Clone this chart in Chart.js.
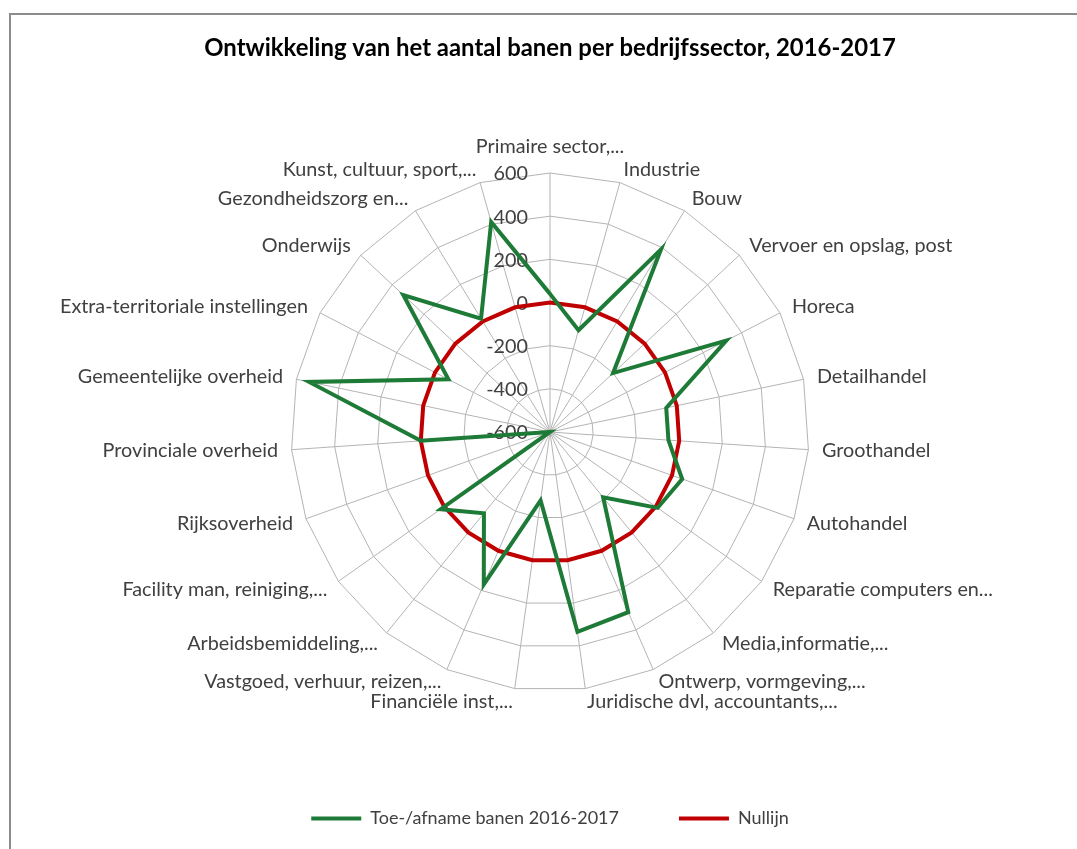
<!DOCTYPE html>
<html>
<head>
<meta charset="utf-8">
<script src="https://cdn.jsdelivr.net/npm/chart.js@4/dist/chart.umd.min.js"></script>
<style>
  html, body { margin: 0; padding: 0; background: #fff; overflow: hidden; }
  #wrap { position: relative; width: 1077px; height: 849px; }
  #frame { position: absolute; left: 9px; top: 13px; width: 1100px; height: 900px;
           border-top: 2px solid #8c8c8c; border-left: 2px solid #8c8c8c; }
  canvas { position: absolute; left: 0; top: 0; }
</style>
</head>
<body>
<div id="wrap">
  <div id="frame"></div>
  <canvas id="radarChart" width="1077" height="849"></canvas>
</div>
<script>
// sectoren (met de klok mee vanaf boven)
const sectoren = [
  "Primaire sector,...",
  "Industrie",
  "Bouw",
  "Vervoer en opslag, post",
  "Horeca",
  "Detailhandel",
  "Groothandel",
  "Autohandel",
  "Reparatie computers en...",
  "Media,informatie,...",
  "Ontwerp, vormgeving,...",
  "Juridische dvl, accountants,...",
  "Financiële inst,...",
  "Vastgoed, verhuur, reizen,...",
  "Arbeidsbemiddeling,...",
  "Facility man, reiniging,...",
  "Rijksoverheid",
  "Provinciale overheid",
  "Gemeentelijke overheid",
  "Extra-territoriale instellingen",
  "Onderwijs",
  "Gezondheidszorg en...",
  "Kunst, cultuur, sport,..."
];

const toeAfname = [40, -110, 390, -200, 320, -50, -50, 50, 10, -210, 310, 335,
                   -280, 170, -115, 20, -600, 0, 540, -70, 330, 15, 410];

// nullijn
const nullijn = sectoren.map(() => 0);

// schaal
const schaalMin = -600;
const schaalMax = 600;
const schaalStap = 200;

const fontFamily = "Lato, 'Open Sans', sans-serif";
const tekstKleur = "#404040";
const labelSize = 19.8;

// tick labels rechts uitgelijnd links van de verticale as
const tickLabelsPlugin = {
  id: "tickLabels",
  beforeDatasetsDraw(chart) {
    const scale = chart.scales.r;
    const ctx = chart.ctx;
    ctx.save();
    ctx.font = labelSize + "px " + fontFamily;
    ctx.fillStyle = tekstKleur;
    ctx.textAlign = "right";
    ctx.textBaseline = "middle";
    scale.ticks.forEach((t) => {
      const d = scale.getDistanceFromCenterForValue(t.value);
      ctx.fillText(t.label, scale.xCenter - 22, scale.yCenter - d + 1);
    });
    ctx.restore();
  },
};

// sectornamen verticaal gecentreerd naast de uiteinden van de spaken (zoals Excel)
const puntLabelsPlugin = {
  id: "puntLabels",
  afterDraw(chart) {
    const scale = chart.scales.r;
    const ctx = chart.ctx;
    ctx.save();
    ctx.font = labelSize + "px " + fontFamily;
    ctx.fillStyle = tekstKleur;
    ctx.textBaseline = "middle";
    chart.data.labels.forEach((label, i) => {
      const p = scale.getPointPosition(i, scale.drawingArea + 13.6);
      const deg = Math.round((scale.getIndexAngle(i) * 180) / Math.PI) % 360;
      let y = p.y;
      if (deg === 0) {
        ctx.textAlign = "center";
        y -= 13;
      } else if (deg < 180) {
        ctx.textAlign = "left";
      } else {
        ctx.textAlign = "right";
      }
      ctx.fillText(label, p.x, y);
    });
    ctx.restore();
  },
};

const ctx = document.getElementById("radarChart");
new Chart(ctx, {
  type: "radar",
  data: {
    labels: sectoren,
    datasets: [
      {
        label: "Toe-/afname banen 2016-2017",
        data: toeAfname,
        borderColor: "#1e7a37",
        backgroundColor: "#1e7a37",
        borderWidth: 4,
        fill: false,
        pointRadius: 0,
        pointHoverRadius: 0,
        pointStyle: "line",
        tension: 0,
      },
      {
        label: "Nullijn",
        data: nullijn,
        borderColor: "#c00000",
        backgroundColor: "#c00000",
        borderWidth: 4,
        fill: false,
        pointRadius: 0,
        pointHoverRadius: 0,
        pointStyle: "line",
        tension: 0,
      },
    ],
  },
  options: {
    responsive: false,
    animation: false,
    layout: {
      padding: { left: 25, right: 2, top: 0, bottom: 11.5 },
    },
    plugins: {
      title: {
        display: true,
        text: "Ontwikkeling van het aantal banen per bedrijfssector, 2016-2017",
        color: "#000",
        font: { family: fontFamily, size: 23.9, weight: "bold" },
        padding: { top: 34, bottom: 109.4 },
      },
      legend: {
        position: "bottom",
        title: { display: true, text: "", font: { size: 10 }, padding: { top: 0, bottom: 45.5 } },
        labels: {
          usePointStyle: true,
          pointStyleWidth: 50,
          padding: 60,
          color: tekstKleur,
          font: { family: fontFamily, size: 18 },
        },
      },
      tooltip: { enabled: false },
    },
    scales: {
      r: {
        min: schaalMin,
        max: schaalMax,
        ticks: { stepSize: schaalStap, display: false },
        grid: { color: "#b4b4b4", lineWidth: 1 },
        angleLines: { color: "#b4b4b4", lineWidth: 1 },
        pointLabels: { display: false },
      },
    },
  },
  plugins: [tickLabelsPlugin, puntLabelsPlugin],
});
</script>
</body>
</html>
